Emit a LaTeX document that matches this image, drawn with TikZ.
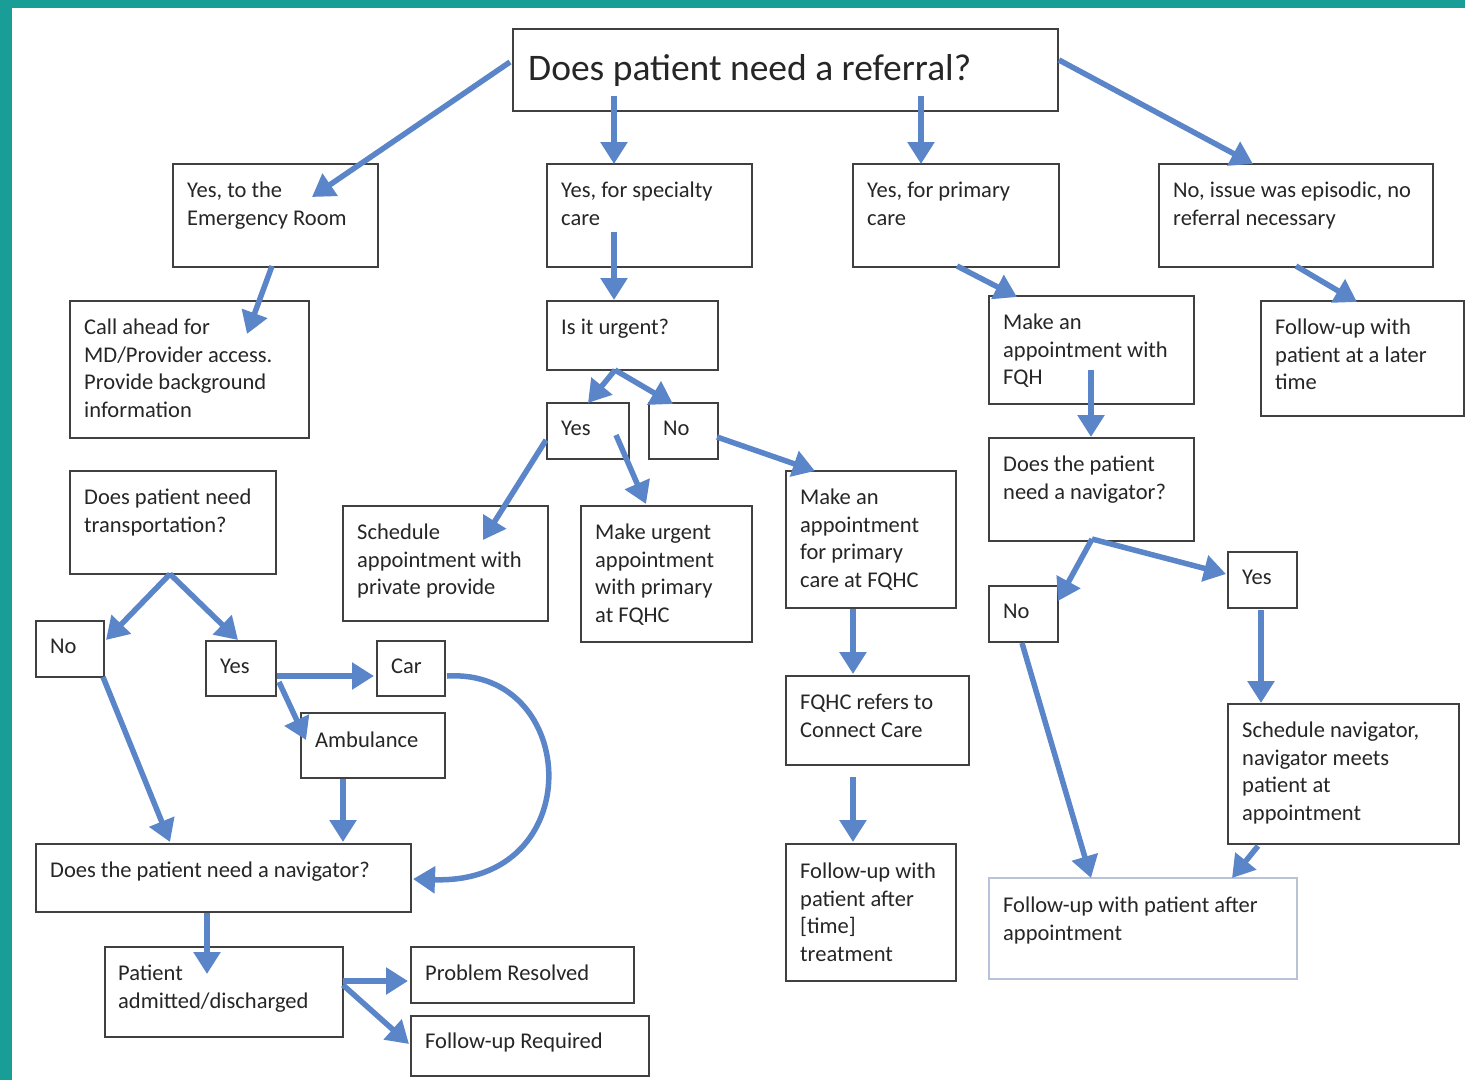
\documentclass[tikz,border=0pt]{standalone}
\usepackage{fontspec}
\setmainfont{Carlito}
\usetikzlibrary{arrows.meta}
\definecolor{framecol}{RGB}{24,158,150}
\definecolor{boxgray}{RGB}{64,64,64}
\definecolor{arrowblue}{RGB}{90,133,200}
\definecolor{palebox}{RGB}{185,195,215}
\tikzset{
    box/.style={draw=boxgray, line width=2pt, rectangle, inner sep=0pt, anchor=north west},
    txt/.style={anchor=north west, inner sep=0pt, align=left,
        font=\fontsize{22.5}{27.5}\selectfont, text=black!85},
    arr/.style={draw=arrowblue, line width=5.5pt, -{Triangle[length=22pt,width=26pt]}}
}

\begin{document}
\begin{tikzpicture}[x=1pt,y=-1pt]
\useasboundingbox (0,0) rectangle (1465,1080);
\fill[white] (0,0) rectangle (1465,1080);
\fill[framecol] (0,0) rectangle (12,1080);
\fill[framecol] (0,0) rectangle (1465,8);

% top row
\node[box, minimum width=545, minimum height=82] (ref) at (512,28) {};
\node[txt, font=\fontsize{37.5}{45}\selectfont] (ref-t) at ([shift={(16,26)}]ref.north west) {Does patient need a referral?};
\node[box, minimum width=205, minimum height=103] (er) at (172,163) {};
\node[txt] (er-t) at ([shift={(15,19)}]er.north west) {Yes, to the\\Emergency Room};
\node[box, minimum width=205, minimum height=103] (spec) at (546,163) {};
\node[txt] (spec-t) at ([shift={(15,19)}]spec.north west) {Yes, for specialty\\care};
\node[box, minimum width=206, minimum height=103] (prim) at (852,163) {};
\node[txt] (prim-t) at ([shift={(15,19)}]prim.north west) {Yes, for primary\\care};
\node[box, minimum width=274, minimum height=103] (noref) at (1158,163) {};
\node[txt] (noref-t) at ([shift={(15,19)}]noref.north west) {No, issue was episodic, no\\referral necessary};

% second row
\node[box, minimum width=239, minimum height=137] (call) at (69,300) {};
\node[txt] (call-t) at ([shift={(15,19)}]call.north west) {Call ahead for\\MD/Provider access.\\Provide background\\information};
\node[box, minimum width=171, minimum height=69] (urg) at (546,300) {};
\node[txt] (urg-t) at ([shift={(15,19)}]urg.north west) {Is it urgent?};
\node[box, minimum width=205, minimum height=108] (fqh) at (988,295) {};
\node[txt] (fqh-t) at ([shift={(15,19)}]fqh.north west) {Make an\\appointment with\\FQH};
\node[box, minimum width=203, minimum height=115] (later) at (1260,300) {};
\node[txt] (later-t) at ([shift={(15,19)}]later.north west) {Follow-up with\\patient at a later\\time};
\node[box, minimum width=82, minimum height=56] (uyes) at (546,402) {};
\node[txt] (uyes-t) at ([shift={(15,19)}]uyes.north west) {Yes};
\node[box, minimum width=69, minimum height=56] (uno) at (648,402) {};
\node[txt] (uno-t) at ([shift={(15,19)}]uno.north west) {No};
\node[box, minimum width=205, minimum height=103] (navr) at (988,437) {};
\node[txt] (navr-t) at ([shift={(15,19)}]navr.north west) {Does the patient\\need a navigator?};

% middle
\node[box, minimum width=206, minimum height=103] (trans) at (69,470) {};
\node[txt] (trans-t) at ([shift={(15,19)}]trans.north west) {Does patient need\\transportation?};
\node[box, minimum width=205, minimum height=115] (priv) at (342,505) {};
\node[txt] (priv-t) at ([shift={(15,19)}]priv.north west) {Schedule\\appointment with\\private provide};
\node[box, minimum width=171, minimum height=136] (urgent) at (580,505) {};
\node[txt] (urgent-t) at ([shift={(15,19)}]urgent.north west) {Make urgent\\appointment\\with primary\\at FQHC};
\node[box, minimum width=170, minimum height=137] (mprim) at (785,470) {};
\node[txt] (mprim-t) at ([shift={(15,19)}]mprim.north west) {Make an\\appointment\\for primary\\care at FQHC};
\node[box, minimum width=69, minimum height=56] (nno) at (988,585) {};
\node[txt] (nno-t) at ([shift={(15,19)}]nno.north west) {No};
\node[box, minimum width=69, minimum height=56] (nyes) at (1227,551) {};
\node[txt] (nyes-t) at ([shift={(15,19)}]nyes.north west) {Yes};
\node[box, minimum width=68, minimum height=56] (tno) at (35,620) {};
\node[txt] (tno-t) at ([shift={(15,19)}]tno.north west) {No};
\node[box, minimum width=70, minimum height=55] (tyes) at (205,640) {};
\node[txt] (tyes-t) at ([shift={(15,19)}]tyes.north west) {Yes};
\node[box, minimum width=68, minimum height=55] (car) at (376,640) {};
\node[txt] (car-t) at ([shift={(15,19)}]car.north west) {Car};
\node[box, minimum width=144, minimum height=65] (amb) at (300,712) {};
\node[txt] (amb-t) at ([shift={(15,20)}]amb.north west) {Ambulance};
\node[box, minimum width=183, minimum height=89] (refers) at (785,675) {};
\node[txt] (refers-t) at ([shift={(15,19)}]refers.north west) {FQHC refers to\\Connect Care};
\node[box, minimum width=231, minimum height=140] (schnav) at (1227,703) {};
\node[txt] (schnav-t) at ([shift={(15,19)}]schnav.north west) {Schedule navigator,\\navigator meets\\patient at\\appointment};

% bottom
\node[box, minimum width=375, minimum height=68] (navl) at (35,843) {};
\node[txt] (navl-t) at ([shift={(15,19)}]navl.north west) {Does the patient need a navigator?};
\node[box, minimum width=170, minimum height=137] (futime) at (785,843) {};
\node[txt] (futime-t) at ([shift={(15,20)}]futime.north west) {Follow-up with\\patient after\\{[}time{]}\\treatment};
\node[box, draw=palebox, minimum width=308, minimum height=101] (fuappt) at (988,877) {};
\node[txt] (fuappt-t) at ([shift={(15,20)}]fuappt.north west) {Follow-up with patient after\\appointment};
\node[box, minimum width=238, minimum height=90] (pat) at (104,946) {};
\node[txt] (pat-t) at ([shift={(14,19)}]pat.north west) {Patient\\admitted/discharged};
\node[box, minimum width=223, minimum height=56] (res) at (410,946) {};
\node[txt] (res-t) at ([shift={(15,19)}]res.north west) {Problem Resolved};
\node[box, minimum width=238, minimum height=60] (req) at (410,1015) {};
\node[txt] (req-t) at ([shift={(15,18)}]req.north west) {Follow-up Required};

% arrows
\draw[arr] ([shift={(-2,34)}]ref.north west) -- ([shift={(140,34)}]er.north west);
\draw[arr] ([shift={(102,68)}]ref.north west) -- ([shift={(68,1)}]spec.north west);
\draw[arr] ([shift={(409,68)}]ref.north west) -- ([shift={(69,1)}]prim.north west);
\draw[arr] ([shift={(547,32)}]ref.north west) -- ([shift={(95,1)}]noref.north west);
\draw[arr] ([shift={(100,103)}]er.north west) -- ([shift={(178,34)}]call.north west);
\draw[arr] ([shift={(68,69)}]spec.north west) -- ([shift={(68,0)}]urg.north west);
\draw[arr] ([shift={(69,70)}]urg.north west) -- ([shift={(42,1)}]uyes.north west);
\draw[arr] ([shift={(69,70)}]urg.north west) -- ([shift={(25,2)}]uno.north west);
\draw[arr] ([shift={(0,38)}]uyes.north west) -- ([shift={(141,35)}]priv.north west);
\draw[arr] ([shift={(70,33)}]uyes.north west) -- ([shift={(66,-1)}]urgent.north west);
\draw[arr] ([shift={(69,35)}]uno.north west) -- ([shift={(30,1)}]mprim.north west);
\draw[arr] ([shift={(105,103)}]prim.north west) -- ([shift={(29,2)}]fqh.north west);
\draw[arr] ([shift={(138,103)}]noref.north west) -- ([shift={(97,2)}]later.north west);
\draw[arr] ([shift={(103,75)}]fqh.north west) -- ([shift={(103,0)}]navr.north west);
\draw[arr] ([shift={(104,102)}]navr.north west) -- ([shift={(70,16)}]nno.north west);
\draw[arr] ([shift={(104,102)}]navr.north west) -- ([shift={(-1,23)}]nyes.north west);
\draw[arr] ([shift={(34,59)}]nyes.north west) -- ([shift={(34,0)}]schnav.north west);
\draw[arr] ([shift={(34,58)}]nno.north west) -- ([shift={(103,1)}]fuappt.north west);
\draw[arr] ([shift={(31,143)}]schnav.north west) -- ([shift={(244,1)}]fuappt.north west);
\draw[arr] ([shift={(68,139)}]mprim.north west) -- ([shift={(68,-1)}]refers.north west);
\draw[arr] ([shift={(68,102)}]refers.north west) -- ([shift={(68,-1)}]futime.north west);
\draw[arr] ([shift={(101,104)}]trans.north west) -- ([shift={(71,20)}]tno.north west);
\draw[arr] ([shift={(101,104)}]trans.north west) -- ([shift={(33,0)}]tyes.north west);
\draw[arr] ([shift={(68,57)}]tno.north west) -- ([shift={(135,-1)}]navl.north west);
\draw[arr] ([shift={(72,36)}]tyes.north west) -- ([shift={(-2,36)}]car.north west);
\draw[arr] ([shift={(74,42)}]tyes.north west) -- ([shift={(6,28)}]amb.north west);
\draw[arr] ([shift={(43,67)}]amb.north west) -- ([shift={(308,-1)}]navl.north west);
\draw[arr] ([shift={(71,36)}]car.north west) .. controls +(133,-8) and +(177,6) .. ([shift={(378,36)}]navl.north west);
\draw[arr] ([shift={(172,70)}]navl.north west) -- ([shift={(103,28)}]pat.north west);
\draw[arr] ([shift={(239,35)}]pat.north west) -- ([shift={(-2,35)}]res.north west);
\draw[arr] ([shift={(239,39)}]pat.north west) -- ([shift={(-1,29)}]req.north west);
\end{tikzpicture}
\end{document}
